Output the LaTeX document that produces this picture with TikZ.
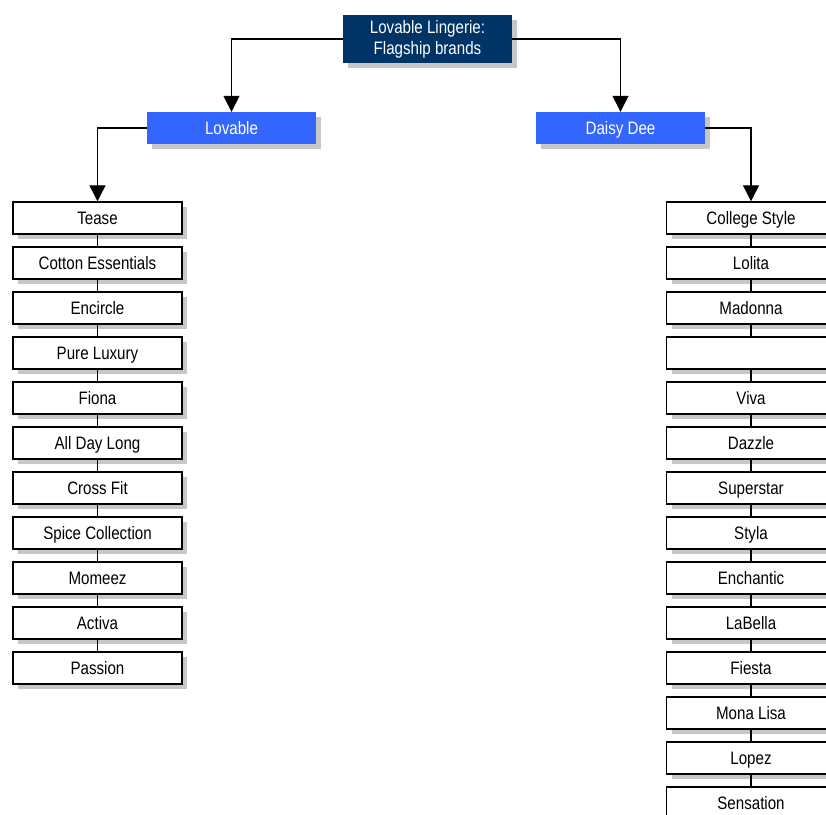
\documentclass[tikz,border=0pt]{standalone}
\usepackage{fontspec}
\setmainfont{Liberation Sans}[FakeStretch=0.84]
\usetikzlibrary{arrows.meta,shadows}
\definecolor{navy}{HTML}{003366}
\definecolor{brandblue}{HTML}{3366FF}
\tikzset{
  boxshadow/.style={drop shadow={shadow xshift=5pt,shadow yshift=-5pt,fill=black!22,opacity=1}},
  topbox/.style={fill=navy,text=white,boxshadow,minimum width=169pt,minimum height=48pt,align=center,inner sep=0pt},
  headbox/.style={fill=brandblue,text=white,boxshadow,minimum width=169pt,minimum height=32pt,inner sep=0pt,text height=13pt,text depth=0pt},
  brandbox/.style={draw,line width=1.5pt,fill=white,boxshadow,minimum width=169pt,minimum height=32pt,inner sep=0pt,text height=13pt,text depth=0pt},
  feed/.style={line width=1.4pt,-{Triangle[width=16pt,length=16pt]}},
  link/.style={line width=1.1pt}
}
\begin{document}
\begin{tikzpicture}[x=1pt,y=-1pt,font=\fontsize{18}{21}\selectfont]
\useasboundingbox (0,0) rectangle (826,814);
\clip (0,0) rectangle (826,814);

% heads
\node[topbox] (top) at (427.5,39) {Lovable Lingerie:\\Flagship brands};
\node[headbox] (lovable) at (231.5,128) {Lovable};
\node[headbox] (daisy) at (620.5,128) {Daisy Dee};

% brand lists
\foreach \name [count=\i from 0] in {Tease,Cotton Essentials,Encircle,Pure Luxury,Fiona,All Day Long,Cross Fit,Spice Collection,Momeez,Activa,Passion}
\node[brandbox] (l\i) at (97.5,218+45*\i) {\name};

\foreach \name [count=\i from 0] in {College Style,Lolita,Madonna,{},Viva,Dazzle,Superstar,Styla,Enchantic,LaBella,Fiesta,Mona Lisa,Lopez,Sensation}
\node[brandbox] (r\i) at (751,218+45*\i) {\name};

% links
\foreach \i in {1,...,10} {
\pgfmathtruncatemacro\j{\i-1}
\draw[link] (l\j.south) -- (l\i.north);
}
\foreach \i in {1,...,13} {
\pgfmathtruncatemacro\j{\i-1}
\draw[link] (r\j.south) -- (r\i.north);
}

% arrows
\draw[feed] (top.west) -| (lovable.north);
\draw[feed] (top.east) -| (daisy.north);
\draw[feed] (lovable.west) -| (l0.north);
\draw[feed] (daisy.east) -| (r0.north);
\end{tikzpicture}
\end{document}
